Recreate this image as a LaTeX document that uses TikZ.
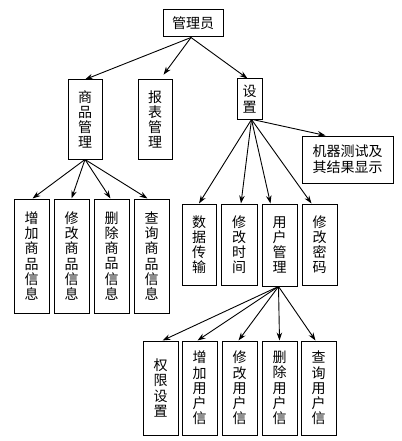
\documentclass[tikz,border=0pt]{standalone}
\usepackage{fontspec}
\newfontfamily\cjk{Noto Sans CJK SC}
\usetikzlibrary{arrows.meta}
\begin{document}
\begin{tikzpicture}[x=1pt,y=-1pt,
  box/.style={draw,line width=1pt,inner sep=0pt,align=center,
    font=\cjk\fontsize{14}{15.2}\selectfont},
  arr/.style={line width=0.9pt,-{Stealth[length=8pt,width=5.5pt]}}]
\useasboundingbox (0,0) rectangle (401,441);
% level 0
\node[box,minimum width=60pt,minimum height=27pt] (gly) at (193,23.5) {管理员};
% level 1
\node[box,minimum width=34pt,minimum height=79pt] (spgl) at (85,119.5) {商\\品\\管\\理};
\node[box,minimum width=34pt,minimum height=79pt] (bbgl) at (155,119.5) {报\\表\\管\\理};
\node[box,minimum width=25pt,minimum height=40pt] (sz) at (249.5,99) {设\\置};
\node[box,minimum width=91pt,minimum height=47pt,font=\cjk\fontsize{14}{16}\selectfont] (jq) at (347.5,159.5) {机器测试及\\其结果显示};
% level 2 left
\node[box,minimum width=35pt,minimum height=114pt] (zj) at (31.5,256) {增\\加\\商\\品\\信\\息};
\node[box,minimum width=35pt,minimum height=114pt] (xg) at (71.5,256) {修\\改\\商\\品\\信\\息};
\node[box,minimum width=35pt,minimum height=114pt] (sc) at (111.5,256) {删\\除\\商\\品\\信\\息};
\node[box,minimum width=35pt,minimum height=114pt] (cx) at (151.5,256) {查\\询\\商\\品\\信\\息};
% level 2 right
\node[box,minimum width=34pt,minimum height=81pt] (sj) at (199,244.5) {数\\据\\传\\输};
\node[box,minimum width=36pt,minimum height=81pt] (sjxg) at (239,244.5) {修\\改\\时\\间};
\node[box,minimum width=35pt,minimum height=82pt] (yh) at (279.5,245) {用\\户\\管\\理};
\node[box,minimum width=35pt,minimum height=81pt] (mm) at (319.5,244.5) {修\\改\\密\\码};
% level 3
\node[box,minimum width=35pt,minimum height=94pt] (qx) at (160.5,388) {权\\限\\设\\置};
\node[box,minimum width=35pt,minimum height=94pt] (zjyh) at (199.5,388) {增\\加\\用\\户\\信};
\node[box,minimum width=35pt,minimum height=94pt] (xgyh) at (239.5,388) {修\\改\\用\\户\\信};
\node[box,minimum width=35pt,minimum height=94pt] (scyh) at (279.5,388) {删\\除\\用\\户\\信};
\node[box,minimum width=35pt,minimum height=94pt] (cxyh) at (318.5,388) {查\\询\\用\\户\\信};
% arrows
\draw[arr] ([xshift=-2pt]gly.south) -- (spgl.north);
\draw[arr,shorten >=6pt] ([xshift=-2pt]gly.south) -- ([xshift=5pt]bbgl.north);
\draw[arr] ([xshift=-2pt]gly.south) -- ([xshift=-2pt]sz.north);
\draw[arr] (spgl.south) -- ([xshift=1pt]zj.north);
\draw[arr] (spgl.south) -- (xg.north);
\draw[arr] (spgl.south) -- ([xshift=-1pt]sc.north);
\draw[arr] (spgl.south) -- ([xshift=-4pt]cx.north);
\draw[arr] ([xshift=2pt]sz.south) -- (sj.north);
\draw[arr] ([xshift=2pt]sz.south) -- ([xshift=2pt]sjxg.north);
\draw[arr] ([xshift=2pt]sz.south) -- ([xshift=-9pt]yh.north);
\draw[arr] ([xshift=2pt]sz.south) -- ([xshift=-8pt]mm.north);
\draw[arr] ([xshift=3pt]sz.south) -- ([xshift=-22pt]jq.north);
\draw[arr] ([xshift=-1pt]yh.south) -- ([xshift=2pt]qx.north);
\draw[arr] ([xshift=-1pt]yh.south) -- ([xshift=-2pt]zjyh.north);
\draw[arr] ([xshift=-1pt]yh.south) -- ([xshift=-1pt]xgyh.north);
\draw[arr] ([xshift=-1pt]yh.south) -- (scyh.north);
\draw[arr] ([xshift=-1pt]yh.south) -- ([xshift=-3pt]cxyh.north);
\end{tikzpicture}
\end{document}
